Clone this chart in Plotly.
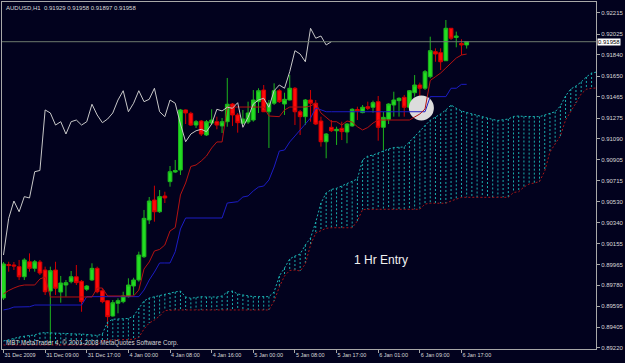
import plotly.graph_objects as go

# ---------------- data (AUDUSD H1) ----------------
bar_index = list(range(90))
open_ = [0.89667, 0.89966, 0.89962, 0.89947, 0.89857, 0.89991, 0.89932, 0.89989, 0.89917, 0.89729,
         0.89917, 0.89720, 0.89783, 0.89813, 0.89857, 0.89816, 0.89745, 0.89828, 0.89932, 0.89732,
         0.89643, 0.89506, 0.89620, 0.89634, 0.89679, 0.89774, 0.89828, 0.90036, 0.90364, 0.90543,
         0.90438, 0.90579, 0.90707, 0.90793, 0.90811, 0.91348, 0.91318, 0.91213, 0.91249, 0.91124,
         0.91231, 0.91243, 0.91205, 0.91243, 0.91401, 0.91303, 0.91229, 0.91240, 0.91258, 0.91422,
         0.91526, 0.91332, 0.91408, 0.91520, 0.91401, 0.91437, 0.91542, 0.91332, 0.91288, 0.91437,
         0.91408, 0.91249, 0.91064, 0.91193, 0.91162, 0.91184, 0.91151, 0.91205, 0.91352, 0.91324,
         0.91377, 0.91372, 0.91422, 0.91193, 0.91264, 0.91392, 0.91431, 0.91461, 0.91372, 0.91502,
         0.91571, 0.91542, 0.91645, 0.91869, 0.91860, 0.91788, 0.92078, 0.91996, 0.91942, 0.91929]
high = [0.89989, 0.89991, 0.89989, 0.90007, 0.90023, 0.90066, 0.90007, 0.90007, 0.89947, 0.89947,
        0.89991, 0.89864, 0.89828, 0.89908, 0.89962, 0.89828, 0.89783, 0.89977, 0.89947, 0.89754,
        0.89649, 0.89649, 0.89664, 0.89723, 0.89843, 0.89848, 0.90081, 0.90454, 0.90570, 0.90671,
        0.90632, 0.90617, 0.90847, 0.90901, 0.91357, 0.91352, 0.91332, 0.91258, 0.91258, 0.91258,
        0.91354, 0.91288, 0.91276, 0.91634, 0.91410, 0.91321, 0.91348, 0.91422, 0.91526, 0.91542,
        0.91571, 0.91437, 0.91586, 0.91535, 0.91502, 0.91660, 0.91553, 0.91348, 0.91446, 0.91526,
        0.91437, 0.91288, 0.91142, 0.91258, 0.91198, 0.91243, 0.91231, 0.91363, 0.91377, 0.91392,
        0.91422, 0.91431, 0.91473, 0.91330, 0.91408, 0.91511, 0.91461, 0.91482, 0.91526, 0.91660,
        0.91592, 0.91705, 0.92003, 0.91899, 0.91899, 0.92152, 0.92081, 0.92048, 0.91980, 0.91958]
low = [0.89649, 0.89902, 0.89917, 0.89828, 0.89828, 0.89902, 0.89902, 0.89872, 0.89694, 0.89247,
       0.89694, 0.89625, 0.89679, 0.89798, 0.89783, 0.89544, 0.89729, 0.89819, 0.89709, 0.89620,
       0.89410, 0.89500, 0.89530, 0.89620, 0.89671, 0.89694, 0.89813, 0.90025, 0.90328, 0.90349,
       0.90427, 0.90516, 0.90662, 0.90784, 0.90767, 0.91222, 0.91205, 0.91187, 0.91115, 0.91115,
       0.91213, 0.91175, 0.91142, 0.91198, 0.91205, 0.91145, 0.91222, 0.91222, 0.91243, 0.91321,
       0.91330, 0.91008, 0.91392, 0.91410, 0.91303, 0.91433, 0.91213, 0.91124, 0.91213, 0.91243,
       0.91213, 0.91020, 0.90916, 0.91151, 0.91035, 0.91079, 0.91050, 0.91198, 0.91258, 0.91318,
       0.91348, 0.91324, 0.91073, 0.90990, 0.91222, 0.91288, 0.91288, 0.91288, 0.91348, 0.91467,
       0.91467, 0.91526, 0.91631, 0.91779, 0.91705, 0.91786, 0.91973, 0.91908, 0.91839, 0.91897]
close = [0.89971, 0.89957, 0.89953, 0.89857, 0.90007, 0.89932, 0.89991, 0.89890, 0.89723, 0.89911,
         0.89754, 0.89801, 0.89804, 0.89857, 0.89804, 0.89634, 0.89774, 0.89932, 0.89723, 0.89634,
         0.89500, 0.89625, 0.89643, 0.89685, 0.89783, 0.89828, 0.90051, 0.90379, 0.90534, 0.90438,
         0.90573, 0.90561, 0.90796, 0.90807, 0.91348, 0.91321, 0.91213, 0.91243, 0.91133, 0.91243,
         0.91258, 0.91213, 0.91243, 0.91399, 0.91303, 0.91234, 0.91267, 0.91321, 0.91437, 0.91520,
         0.91332, 0.91408, 0.91520, 0.91422, 0.91443, 0.91542, 0.91332, 0.91288, 0.91437, 0.91408,
         0.91222, 0.91064, 0.91133, 0.91162, 0.91175, 0.91154, 0.91222, 0.91354, 0.91339, 0.91372,
         0.91363, 0.91413, 0.91193, 0.91282, 0.91401, 0.91437, 0.91452, 0.91372, 0.91520, 0.91571,
         0.91542, 0.91690, 0.91878, 0.91848, 0.91779, 0.92078, 0.91989, 0.92009, 0.91929, 0.91958]

# Ichimoku lines
tenkan = [0.89703, 0.89734, 0.89756, 0.89774, 0.89783, 0.89783, 0.89783, 0.89837, 0.89855, 0.89676,
          0.89676, 0.89676, 0.89676, 0.89676, 0.89676, 0.89676, 0.89676, 0.89676, 0.89756, 0.89756,
          0.89685, 0.89685, 0.89685, 0.89685, 0.89685, 0.89685, 0.89738, 0.89926, 0.89989, 0.90087,
          0.90101, 0.90141, 0.90266, 0.90297, 0.90588, 0.90695, 0.90843, 0.90856, 0.90892, 0.90936,
          0.91008, 0.91062, 0.91062, 0.91374, 0.91374, 0.91374, 0.91374, 0.91374, 0.91374, 0.91374,
          0.91374, 0.91294, 0.91288, 0.91288, 0.91348, 0.91374, 0.91374, 0.91374, 0.91374, 0.91383,
          0.91410, 0.91321, 0.91285, 0.91243, 0.91243, 0.91213, 0.91249, 0.91240, 0.91198, 0.91169,
          0.91191, 0.91231, 0.91258, 0.91258, 0.91258, 0.91258, 0.91258, 0.91258, 0.91258, 0.91285,
          0.91312, 0.91357, 0.91611, 0.91645, 0.91678, 0.91723, 0.91768, 0.91812, 0.91839, 0.91848]
kijun = [0.89560, 0.89569, 0.89586, 0.89589, 0.89589, 0.89589, 0.89604, 0.89604, 0.89604, 0.89604,
         0.89604, 0.89604, 0.89604, 0.89604, 0.89604, 0.89604, 0.89679, 0.89679, 0.89679, 0.89679,
         0.89679, 0.89679, 0.89679, 0.89679, 0.89679, 0.89679, 0.89679, 0.89738, 0.89828, 0.89899,
         0.89980, 0.89980, 0.89980, 0.90081, 0.90284, 0.90382, 0.90382, 0.90382, 0.90382, 0.90382,
         0.90382, 0.90382, 0.90382, 0.90516, 0.90525, 0.90528, 0.90570, 0.90579, 0.90624, 0.90659,
         0.90668, 0.90722, 0.90838, 0.90981, 0.90990, 0.91062, 0.91115, 0.91169, 0.91222, 0.91276,
         0.91366, 0.91348, 0.91332, 0.91332, 0.91332, 0.91332, 0.91332, 0.91332, 0.91332, 0.91332,
         0.91332, 0.91332, 0.91332, 0.91332, 0.91332, 0.91332, 0.91332, 0.91332, 0.91332, 0.91332,
         0.91332, 0.91332, 0.91467, 0.91467, 0.91467, 0.91467, 0.91542, 0.91542, 0.91577, 0.91577]
# Senkou spans (already shifted 26 bars ahead), bar 0 .. 114
senkou_a = [0.89283, 0.89291, 0.89305, 0.89318, 0.89327, 0.89332, 0.89336, 0.89354, 0.89357, 0.89357,
            0.89354, 0.89351, 0.89350, 0.89345, 0.89345, 0.89345, 0.89341, 0.89336, 0.89332, 0.89345,
            0.89452, 0.89477, 0.89479, 0.89479, 0.89484, 0.89506, 0.89578, 0.89640, 0.89667, 0.89679,
            0.89689, 0.89698, 0.89712, 0.89721, 0.89729, 0.89676, 0.89664, 0.89671, 0.89679, 0.89676,
            0.89673, 0.89676, 0.89685, 0.89721, 0.89729, 0.89703, 0.89694, 0.89685, 0.89679, 0.89679,
            0.89679, 0.89679, 0.89721, 0.89864, 0.89935, 0.90016, 0.90042, 0.90060, 0.90141, 0.90203,
            0.90346, 0.90516, 0.90606, 0.90637, 0.90648, 0.90668, 0.90686, 0.90708, 0.90731, 0.90901,
            0.90936, 0.90945, 0.90963, 0.90986, 0.90999, 0.91012, 0.91017, 0.91017, 0.91062, 0.91111,
            0.91164, 0.91213, 0.91256, 0.91285, 0.91312, 0.91348, 0.91392, 0.91363, 0.91339, 0.91325,
            0.91312, 0.91298, 0.91285, 0.91276, 0.91263, 0.91254, 0.91258, 0.91267, 0.91290, 0.91294,
            0.91290, 0.91288, 0.91288, 0.91288, 0.91303, 0.91321, 0.91332, 0.91383, 0.91473, 0.91535,
            0.91562, 0.91598, 0.91643, 0.91678, 0.91687]
senkou_b = [0.89247, 0.89247, 0.89247, 0.89247, 0.89247, 0.89247, 0.89247, 0.89247, 0.89247, 0.89247,
            0.89247, 0.89247, 0.89247, 0.89247, 0.89247, 0.89247, 0.89247, 0.89247, 0.89247, 0.89283,
            0.89291, 0.89291, 0.89291, 0.89291, 0.89296, 0.89298, 0.89314, 0.89390, 0.89443, 0.89470,
            0.89506, 0.89555, 0.89560, 0.89560, 0.89560, 0.89560, 0.89560, 0.89560, 0.89560, 0.89560,
            0.89560, 0.89560, 0.89560, 0.89560, 0.89560, 0.89560, 0.89560, 0.89560, 0.89560, 0.89560,
            0.89560, 0.89560, 0.89640, 0.89765, 0.89864, 0.89913, 0.89917, 0.89908, 0.89971, 0.90141,
            0.90248, 0.90270, 0.90290, 0.90295, 0.90295, 0.90295, 0.90295, 0.90295, 0.90355, 0.90458,
            0.90460, 0.90460, 0.90460, 0.90460, 0.90460, 0.90460, 0.90460, 0.90460, 0.90460, 0.90460,
            0.90460, 0.90507, 0.90514, 0.90514, 0.90514, 0.90514, 0.90534, 0.90552, 0.90567, 0.90567,
            0.90567, 0.90567, 0.90567, 0.90567, 0.90567, 0.90567, 0.90567, 0.90567, 0.90610, 0.90617,
            0.90659, 0.90686, 0.90695, 0.90708, 0.90802, 0.90972, 0.91044, 0.91115, 0.91258, 0.91330,
            0.91410, 0.91491, 0.91533, 0.91542, 0.91544]
chikou_shift = 26

x_tick_bars = [0, 8, 16, 24, 32, 40, 48, 56, 64, 72, 80, 88]
x_tick_labels = ["31 Dec 2009", "31 Dec 09:00", "31 Dec 17:00", "4 Jan 00:00", "4 Jan 08:00",
                 "4 Jan 16:00", "5 Jan 00:00", "5 Jan 08:00", "5 Jan 17:00", "6 Jan 01:00",
                 "6 Jan 09:00", "6 Jan 17:00"]
y_tick_labels = ["0.92215", "0.92025", "0.91840", "0.91650", "0.91465", "0.91275", "0.91090",
                 "0.90905", "0.90715", "0.90530", "0.90340", "0.90155", "0.89965", "0.89780",
                 "0.89595", "0.89405", "0.89220"]
y_tick_values = [float(t) for t in y_tick_labels]

title_text = "AUDUSD,H1  0.91929 0.91958 0.91897 0.91958"
footer_text = "MBT MetaTrader 4, \u00a9 2001-2008 MetaQuotes Software Corp."
note_text = "1 Hr Entry"
note_pos = (72.5, 0.90007)
highlight_pos = (80.3, 0.91366)

# ---------------- styles ----------------
BG = "#02021e"
AXIS = "#a8a8a8"
TXT = "#d8d8d8"
FONT = "Liberation Sans, Arial, sans-serif"

fig = go.Figure()

# highlight circle (drawn first so lines pass over it)
fig.add_trace(go.Scatter(x=[highlight_pos[0]], y=[highlight_pos[1]], mode="markers",
                         marker=dict(size=25, color="#dcdcdc", line=dict(width=0)),
                         hoverinfo="skip"))

# kumo: vertical dotted hatching between the spans
cx, cy = [], []
for i in range(1, len(senkou_a)):
    cx += [i, i, None]
    cy += [senkou_a[i], senkou_b[i], None]
fig.add_trace(go.Scatter(x=cx, y=cy, mode="lines",
                         line=dict(color="#1aaeae", width=1, dash="2px,2px"), hoverinfo="skip"))
span_x = list(range(len(senkou_a)))
fig.add_trace(go.Scatter(x=span_x, y=senkou_a, mode="lines",
                         line=dict(color="#1cb4b4", width=1, dash="2px,2px")))
fig.add_trace(go.Scatter(x=span_x, y=senkou_b, mode="lines",
                         line=dict(color="#a51616", width=1, dash="2px,2px")))

fig.add_trace(go.Scatter(x=bar_index, y=kijun, mode="lines", line=dict(color="#1c1cc4", width=1)))
fig.add_trace(go.Scatter(x=bar_index, y=tenkan, mode="lines", line=dict(color="#b41212", width=1)))
chikou_y = close[chikou_shift:]
fig.add_trace(go.Scatter(x=bar_index[:len(chikou_y)], y=chikou_y, mode="lines",
                         line=dict(color="#c8c8c8", width=1)))

fig.add_trace(go.Candlestick(
    x=bar_index, open=open_, high=high, low=low, close=close,
    increasing=dict(line=dict(color="#1db51d", width=1), fillcolor="#22dd22"),
    decreasing=dict(line=dict(color="#d20000", width=1), fillcolor="#ff0a0a"),
    whiskerwidth=0, hoverinfo="skip"))

# bid line
fig.add_shape(type="line", xref="paper", x0=0, x1=1, yref="y", y0=close[-1], y1=close[-1],
              line=dict(color="#6e7a6e", width=1))

fig.update_layout(
    width=625, height=363,
    margin=dict(l=1, r=28, t=2, b=14),
    paper_bgcolor=BG, plot_bgcolor=BG,
    showlegend=False,
    boxgap=0.15, boxgroupgap=0.15,
    font=dict(family=FONT, color=TXT, size=6),
    xaxis=dict(range=[-0.287, 113.85], showgrid=False, zeroline=False,
               showline=True, linecolor=AXIS, linewidth=1, mirror=True,
               ticks="outside", ticklen=3, tickcolor=AXIS,
               tickvals=x_tick_bars, ticktext=x_tick_labels,
               tickangle=0, ticklabelposition="outside right",
               tickfont=dict(size=5.5, color=TXT, family=FONT),
               rangeslider=dict(visible=False)),
    yaxis=dict(range=[0.89211, 0.92313], side="right", showgrid=False, zeroline=False,
               showline=True, linecolor=AXIS, linewidth=1, mirror=True,
               ticks="outside", ticklen=3, tickcolor=AXIS,
               tickvals=y_tick_values, ticktext=y_tick_labels,
               tickfont=dict(size=6, color=TXT, family=FONT)),
)

fig.add_annotation(xref="paper", yref="paper", x=0, y=1, xanchor="left", yanchor="top",
                   xshift=2, yshift=-1, text=title_text, showarrow=False,
                   font=dict(size=6, color=TXT, family=FONT))
fig.add_annotation(xref="paper", yref="paper", x=0, y=0, xanchor="left", yanchor="bottom",
                   xshift=2, yshift=0, text=footer_text, showarrow=False,
                   font=dict(size=6.3, color=TXT, family=FONT))
fig.add_annotation(x=note_pos[0], y=note_pos[1], text=note_text, showarrow=False,
                   font=dict(size=12, color="#f0f0f0", family=FONT))
fig.add_annotation(xref="paper", yref="y", x=1, y=close[-1], xanchor="left", xshift=1,
                   text="{:.5f}".format(close[-1]), showarrow=False, bgcolor="#ffffff",
                   borderpad=0, font=dict(size=6, color="#000000", family=FONT))

fig.write_html("out.html")
